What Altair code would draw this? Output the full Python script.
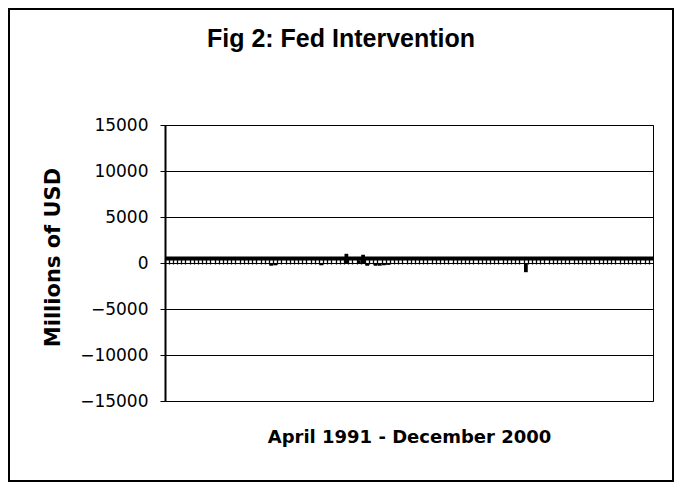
import altair as alt
import pandas as pd

chart_title = "Fig 2: Fed Intervention"
y_title = "Millions of USD"
x_title = "April 1991 - December 2000"

years = [1991, 1992, 1993, 1994, 1995, 1996, 1997, 1998, 1999, 2000]
first_month = 4  # April 1991
# monthly Fed intervention, millions of USD, April 1991 .. December 2000
intervention = [
    # 1991 Apr-Dec
    0, 0, 0, 0, 0, 0, 0, 0, 0,
    # 1992
    0, 0, 0, 0, 0, 0, 0, 0, 0, 0, 0, 0,
    # 1993
    0, 0, 0, 0, -300, -250, 0, 0, 0, 0, 0, 0,
    # 1994
    0, 0, 0, 0, -250, 0, 0, 0, 0, 0, 1000, 0,
    # 1995
    0, 300, 900, -300, 0, -300, -300, -250, -200, 0, 0, 0,
    # 1996
    0, 0, 0, 0, 0, 0, 0, 0, 0, 0, 0, 0,
    # 1997
    0, 0, 0, 0, 0, 0, 0, 0, 0, 0, 0, 0,
    # 1998
    0, 0, 0, 0, 0, -1000, 0, 0, 0, 0, 0, 0,
    # 1999
    0, 0, 0, 0, 0, 0, 0, 0, 0, 0, 0, 0,
    # 2000
    0, 0, 0, 0, 0, 0, 0, 0, 0, 0, 0, 0,
]
y_ticks = [-15000, -10000, -5000, 0, 5000, 10000, 15000]

month_labels = []
for yr in years:
    start = first_month if yr == years[0] else 1
    for m in range(start, 13):
        month_labels.append(f"{yr}-{m:02d}")

df = pd.DataFrame({"month": month_labels, "value": intervention})

bars = alt.Chart(df).mark_bar(color="black").encode(
    x=alt.X(
        "month:O",
        sort=None,
        scale=alt.Scale(paddingInner=0.1, paddingOuter=0),
        axis=alt.Axis(
            title=x_title,
            labels=False,
            grid=False,
            offset=-143,
            domainColor="black",
            domainWidth=4,
            ticks=True,
            tickColor="black",
            tickWidth=1.3,
            tickSize=6,
            bandPosition=0,
            titleFont="DejaVu Sans",
            titleFontSize=18,
            titleFontWeight="bold",
            titleColor="black",
            titleX=244,
            titleY=179,
            titleBaseline="middle",
            titleAlign="center",
        ),
    ),
    y=alt.Y(
        "value:Q",
        scale=alt.Scale(domain=[-15000, 15000], nice=False, zero=False),
        axis=alt.Axis(
            title=y_title,
            values=y_ticks,
            format="d",
            grid=True,
            gridColor="black",
            gridWidth=1,
            gridOpacity=1,
            domainColor="black",
            domainWidth=2,
            tickColor="black",
            tickSize=5,
            labelFont="DejaVu Sans",
            labelFontSize=17,
            labelColor="black",
            labelPadding=12,
            titleFont="DejaVu Sans",
            titleFontSize=21,
            titleFontWeight="bold",
            titleColor="black",
            titleAngle=-90,
            titleX=-112,
            titleY=132,
            titleAlign="center",
            titleBaseline="middle",
        ),
    ),
)

title_mark = alt.Chart(alt.Data(values=[{"t": chart_title}])).mark_text(
    font="Liberation Sans",
    fontSize=25,
    fontWeight="bold",
    color="black",
    align="center",
    baseline="alphabetic",
).encode(text="t:N", x=alt.value(176), y=alt.value(-78))

frame = alt.Chart(alt.Data(values=[{"f": 1}])).mark_rect(
    fillOpacity=0, stroke="black", strokeWidth=2
).encode(
    x=alt.value(-156), x2=alt.value(508), y=alt.value(-116), y2=alt.value(356)
)

chart = alt.layer(bars, title_mark, frame).properties(
    width=488,
    height=276,
    autosize=alt.AutoSizeParams(type="none"),
    padding={"left": 157, "top": 117, "right": 21, "bottom": 81},
    background="white",
).configure_view(stroke="black", strokeWidth=1)

chart.save("out.html", embed_options={"renderer": "svg", "actions": False})
